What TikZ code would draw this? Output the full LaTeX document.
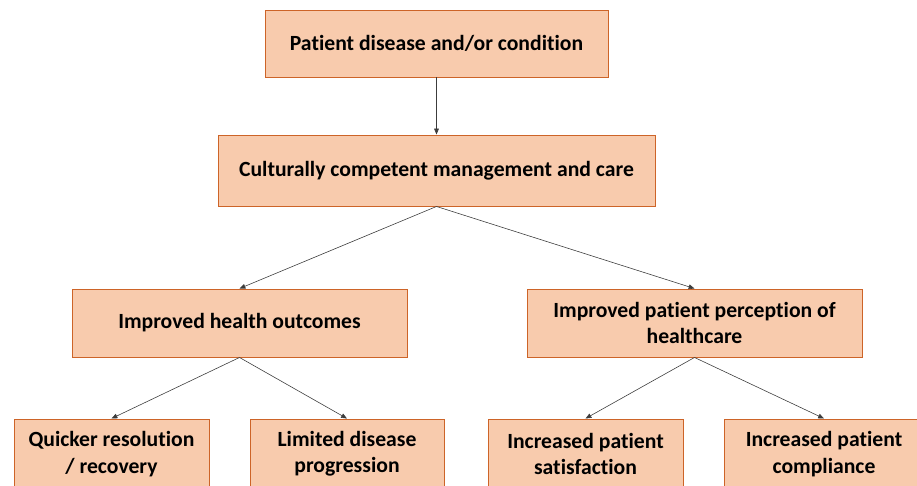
\documentclass[tikz,border=0pt]{standalone}
\usepackage{xcolor}
\usepackage{fontspec}
\setmainfont{Carlito}[Ligatures={NoCommon}]
\usepackage{tikz}
\usetikzlibrary{positioning,arrows.meta}

\definecolor{boxfill}{RGB}{248,203,173}
\definecolor{boxline}{RGB}{205,100,40}
\definecolor{arrowgray}{RGB}{60,60,60}

\begin{document}
\begin{tikzpicture}[x=0.03cm, y=-0.03cm,
    box/.style={draw=boxline, fill=boxfill, line width=0.8pt, align=center,
        font=\fontsize{18.5}{22.5}\selectfont\bfseries, inner sep=0pt},
    link/.style={arrowgray, -{Triangle[length=5pt, width=4pt]}, line width=0.5pt}]
\clip (0,0) rectangle (917,486);

\node[box, minimum width=10.29cm, minimum height=2.01cm] (disease) at (436.5,43.5) {Patient disease and/or condition};
\node[box, minimum width=13.11cm, minimum height=2.13cm] (care) at (436.5,170.5) {Culturally competent management and care};

\node[box, minimum width=10.05cm, minimum height=2.04cm] (health) at (239.5,323) {Improved health outcomes};
\node[box, minimum width=10.05cm, minimum height=2.04cm] (perception) at (694.5,323) {Improved patient perception of\\healthcare};

\node[box, minimum width=5.85cm, minimum height=2.1cm] (quicker) at (111.5,454) {Quicker resolution\\/ recovery};
\node[box, minimum width=5.82cm, minimum height=2.1cm] (limited) at (347,454) {Limited disease\\progression};
\node[box, minimum width=5.85cm, minimum height=2.1cm] (satisfied) at (585.5,454) {Increased patient\\satisfaction};
\node[box, minimum width=6cm, minimum height=2.1cm] (compliant) at (824,454) {Increased patient\\compliance};

\draw[link] (disease) -- (care);
\draw[link] (care.south) -- (health.north);
\draw[link] (care.south) -- (perception.north);
\draw[link] (health.south) -- (quicker.north);
\draw[link] (health.south) -- (limited.north);
\draw[link] (perception.south) -- (satisfied.north);
\draw[link] (perception.south) -- (compliant.north);

\end{tikzpicture}
\end{document}
